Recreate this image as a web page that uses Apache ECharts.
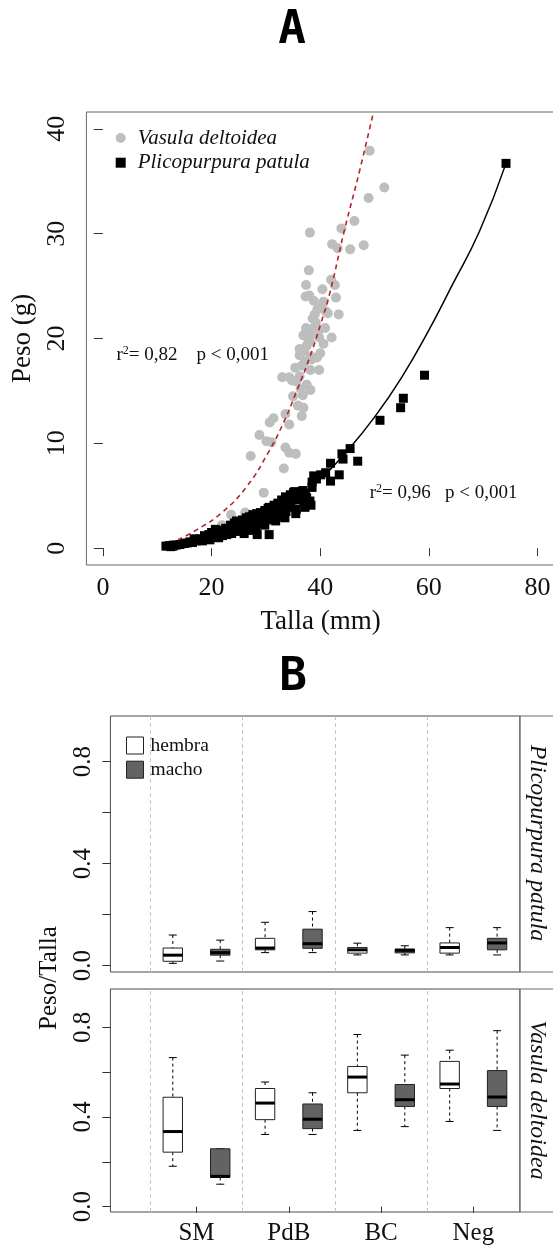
<!DOCTYPE html>
<html><head><meta charset="utf-8">
<script src="https://cdn.jsdelivr.net/npm/echarts@6/dist/echarts.min.js"></script>
<style>html,body{margin:0;padding:0;background:#fff}#c{width:553px;height:1245px}</style>
</head><body><div id="c"></div>
<script>
// ---------- Panel A data ----------
const vasulaPoints = [
 [49.1,37.9],[51.8,34.4],[48.9,33.4],[46.3,31.2],[43.9,30.5],[38.1,30.1],[42.2,29.0],[43.2,28.6],[45.5,28.5],[48.0,28.9],
 [37.9,26.5],[37.4,25.1],[40.4,24.7],[42.0,25.6],[42.7,25.1],[42.9,23.9],[37.3,24.0],[38.8,23.6],[40.6,23.5],[39.5,22.8],
 [41.4,22.4],[43.4,22.3],[38.6,21.9],[37.4,21.0],[38.8,21.0],[40.9,21.0],[42.1,20.1],[39.8,20.1],[38.1,19.7],[36.2,19.0],
 [37.5,19.3],[40.0,18.6],[36.2,18.4],[38.2,18.3],[36.6,17.4],[38.2,17.0],[39.8,17.0],[33.0,16.3],[34.3,16.3],[36.2,16.4],
 [37.5,15.6],[38.2,15.1],[35.9,13.6],[36.9,13.4],[36.6,12.6],[33.6,12.8],[31.4,12.4],[30.7,12.0],[34.3,11.8],[28.8,10.8],
 [30.1,10.2],[31.0,10.1],[33.6,9.6],[34.3,9.1],[35.5,9.0],[27.2,8.8],[33.3,7.6],[29.6,5.3],[26.2,3.4],[23.6,3.2],[21.9,2.2],
 [39.2,21.5],[39.6,20.6],[36.9,20.3],[40.6,19.5],[38.5,20.5],[37.8,19.9],[37.0,18.8],[35.4,17.2],[37.2,17.8],[38.4,18.0],
 [36.8,14.6],[35.0,14.5],[34.8,16.0],[39.0,22.3],[41.0,22.6],[40.3,23.1],[38.0,24.1],[35.6,15.9],[39.4,18.2],[36.4,15.2]
];
const plicoPoints = [
 [11.6,0.2],[12.2,0.25],[12.9,0.2],[13.5,0.3],[14.2,0.35],[12.5,0.15],[13.0,0.3],
 [15.0,0.45],[15.5,0.5],[16.0,0.6],[16.5,0.55],[16.8,0.9],[17.2,0.7],[17.5,0.8],[18.0,0.9],[18.3,0.7],[18.7,1.2],[19.0,1.0],
 [19.3,1.1],[19.7,0.8],[20.0,1.5],[20.4,1.2],[20.7,1.8],
 [21.0,1.3],[21.3,1.0],[21.7,1.4],[22.0,1.2],[22.4,1.6],[22.8,1.3],[23.1,1.8],[23.3,1.5],[23.7,1.4],[24.0,2.0],[24.3,1.7],
 [24.6,2.6],[24.9,1.9],[25.2,1.6],[25.5,2.2],[25.8,2.0],[26.2,1.8],[26.5,2.1],[26.8,2.5],
 [27.1,2.2],[27.4,2.7],[27.8,2.3],[28.0,2.6],[28.2,1.9],[28.4,1.3],[28.7,2.9],[29.1,2.8],[29.3,2.4],[29.6,3.0],[30.0,3.2],
 [30.6,1.3],[30.4,3.8],[30.7,2.7],[31.0,3.4],[31.3,3.0],
 [31.7,3.4],[32.0,3.8],[32.3,3.2],[32.7,3.6],[33.0,4.0],[33.0,3.0],[33.4,4.3],[33.7,3.5],[34.0,4.6],[34.3,4.5],[34.6,3.9],
 [35.0,4.8],[35.3,5.4],[35.6,3.7],[35.9,4.6],[36.3,4.7],[36.6,5.0],[37.0,4.3],[37.5,4.8],[37.8,4.2],[38.1,4.5],[38.5,5.8],
 [38.5,6.3],[38.8,6.9],[39.3,6.6],[40.1,7.0],[41.0,7.2],
 [19.5,1.3],[21.5,1.7],[22.6,1.9],[23.5,2.2],[24.2,2.4],[25.0,2.5],[25.7,2.7],[26.4,2.9],[27.0,3.0],[27.6,3.2],[28.3,3.3],
 [29.0,3.4],[29.8,3.6],[30.6,3.9],[31.5,4.1],[32.2,4.3],[32.9,4.6],[33.6,4.9],[34.5,5.1],[35.1,5.3],[36.0,5.2],[36.8,5.5],
 [37.3,5.1],[26.0,1.4],[27.3,1.7],[29.8,2.2],[31.8,2.6],[33.5,2.9],[35.5,3.3],[37.2,3.9],[38.3,4.1],
 [41.9,8.1],[41.9,6.4],[43.5,7.0],[44.0,9.0],[44.2,8.5],[45.5,9.5],[46.9,8.3],[51.0,12.2],[54.8,13.4],[55.3,14.3],[59.2,16.5],[74.2,36.7]
];
// fitted curves
const fitVasula = [[13.8,0.8],[17.4,1.8],[21.9,3.4],[26.5,5.9],[30.4,9.1],[33.0,11.7],[35.6,14.9],[38.2,18.4],[40.1,21.4],[41.8,24.4],[44.4,30.2],[47.3,36.1],[49.8,41.6]];
const fitPlico = [[12,0.2],[15,0.5],[20,1.0],[25,1.8],[30,3.0],[35,4.6],[40,6.6],[45,9.3],[50,12.5],[55,16.3],[60,20.8],[64.2,25.0],[69.3,30.2],[74.2,36.7]];
const xTicksA = [0,20,40,60,80];
const yTicksA = [0,10,20,30,40];

// ---------- Panel B data ----------
const categories = ['SM','PdB','BC','Neg'];
const catTicks = [1,2,3,4];
const separators = [0.5,1.5,2.5,3.5];
const yTicksB = [0,0.2,0.4,0.6,0.8];
const yLabelsB = [0,0.4,0.8];
// each: [min, q1, median, q3, max]
const plicoHembra  = [[0.009,0.017,0.041,0.069,0.12],[0.051,0.062,0.069,0.107,0.17],[0.042,0.049,0.062,0.071,0.088],[0.042,0.049,0.071,0.089,0.149]];
const plicoMacho   = [[0.018,0.041,0.051,0.064,0.10],[0.051,0.068,0.086,0.143,0.212],[0.042,0.05,0.06,0.065,0.078],[0.042,0.062,0.089,0.107,0.149]];
const vasulaHembra = [[0.18,0.243,0.335,0.488,0.665],[0.322,0.388,0.462,0.527,0.556],[0.34,0.508,0.578,0.625,0.768],[0.38,0.527,0.547,0.648,0.698]];
const vasulaMacho  = [[0.10,0.13,0.135,0.258,0.258],[0.322,0.348,0.39,0.458,0.508],[0.357,0.447,0.477,0.545,0.676],[0.34,0.447,0.489,0.607,0.785]];

const SERIF = '"Liberation Serif", "Times New Roman", serif';
const chart = echarts.init(document.getElementById('c'), null, {renderer:'canvas'});

function boxItem(params, api) {
  const x = api.value(0);
  const p = i => api.coord([x, api.value(i)]);
  const lo = p(1), q1 = p(2), md = p(3), q3 = p(4), hi = p(5);
  const cx = lo[0], bw = 19.4, cw = 8;
  const dash = {stroke:'#000', lineWidth:1, lineDash:[3,3]};
  const solid = {stroke:'#000', lineWidth:1};
  return {type:'group', children:[
    {type:'line', shape:{x1:cx,y1:hi[1],x2:cx,y2:q3[1]}, style:dash},
    {type:'line', shape:{x1:cx,y1:q1[1],x2:cx,y2:lo[1]}, style:dash},
    {type:'line', shape:{x1:cx-cw/2,y1:hi[1],x2:cx+cw/2,y2:hi[1]}, style:solid},
    {type:'line', shape:{x1:cx-cw/2,y1:lo[1],x2:cx+cw/2,y2:lo[1]}, style:solid},
    {type:'rect', shape:{x:cx-bw/2,y:q3[1],width:bw,height:q1[1]-q3[1]}, style:{fill:api.visual('color'), stroke:'#222', lineWidth:1}},
    {type:'line', shape:{x1:cx-bw/2,y1:md[1],x2:cx+bw/2,y2:md[1]}, style:{stroke:'#000', lineWidth:3}}
  ]};
}
const sepLine = {silent:true, symbol:'none', label:{show:false},
  lineStyle:{color:'#c4c4c4', type:[4,3], width:1}, data: separators.map(v=>({xAxis:v}))};
function boxSeries(name, stats, shift, gi, color, withSep) {
  const s = {type:'custom', name, xAxisIndex:gi, yAxisIndex:gi, renderItem:boxItem, itemStyle:{color},
    encode:{x:0, y:[1,2,3,4,5]}, data: stats.map((v,i)=>[catTicks[i]+shift].concat(v)), z:3};
  if (withSep) s.markLine = sepLine;
  return s;
}

const tickStyle = {lineStyle:{color:'#333', width:1}};
const hidden = {show:false};
const gridBase = {show:true, borderWidth:1, containLabel:false, outerBoundsMode:'none'};

const option = {
  animation:false,
  grid:[
    Object.assign({left:86.4, top:112, width:468.5, height:453, borderColor:'#666'}, gridBase),
    Object.assign({left:110.4, top:716, width:409.5, height:256, borderColor:'#4a4a4a'}, gridBase),
    Object.assign({left:519.9, top:716, width:100, height:256, borderColor:'#6a6a6a'}, gridBase),
    Object.assign({left:110.4, top:989, width:409.5, height:223, borderColor:'#4a4a4a'}, gridBase),
    Object.assign({left:519.9, top:989, width:100, height:223, borderColor:'#6a6a6a'}, gridBase)
  ],
  xAxis:[
    {gridIndex:0, type:'value', min:-3.04, max:83.2, axisLine:hidden, splitLine:hidden,
     axisTick:Object.assign({show:true, length:8, customValues:xTicksA}, tickStyle),
     axisLabel:{customValues:xTicksA, fontSize:26, fontFamily:SERIF, color:'#111', margin:10},
     name:'Talla (mm)', nameLocation:'middle', nameGap:43, nameTextStyle:{fontSize:27, fontFamily:SERIF, color:'#111'}},
    {gridIndex:1, type:'value', min:0.067, max:4.504, axisLine:hidden, splitLine:hidden, axisTick:hidden, axisLabel:hidden},
    {gridIndex:2, type:'value', show:false, min:0, max:1},
    {gridIndex:3, type:'value', min:0.067, max:4.504, axisLine:hidden, splitLine:hidden,
     axisTick:Object.assign({show:true, length:6, customValues:catTicks}, tickStyle),
     axisLabel:{customValues:catTicks, formatter:v=>categories[Math.round(v)-1], fontSize:25, fontFamily:SERIF, color:'#111', margin:9}},
    {gridIndex:4, type:'value', show:false, min:0, max:1}
  ],
  yAxis:[
    {gridIndex:0, type:'value', min:-1.6, max:41.6, axisLine:hidden, splitLine:hidden,
     axisTick:Object.assign({show:true, length:9, customValues:yTicksA}, tickStyle),
     axisLabel:{customValues:yTicksA, rotate:90, fontSize:26, fontFamily:SERIF, color:'#111', margin:16},
     name:'Peso (g)', nameLocation:'middle', nameRotate:90, nameGap:47, nameTextStyle:{fontSize:27, fontFamily:SERIF, color:'#111'}},
    {gridIndex:1, type:'value', min:-0.025, max:0.979, axisLine:hidden, splitLine:hidden,
     axisTick:Object.assign({show:true, length:8, customValues:yTicksB}, tickStyle),
     axisLabel:{customValues:yLabelsB, formatter:v=>v.toFixed(1), rotate:90, fontSize:25, fontFamily:SERIF, color:'#111', margin:14}},
    {gridIndex:2, type:'value', show:false, min:0, max:1},
    {gridIndex:3, type:'value', min:-0.024, max:0.971, axisLine:hidden, splitLine:hidden,
     axisTick:Object.assign({show:true, length:8, customValues:yTicksB}, tickStyle),
     axisLabel:{customValues:yLabelsB, formatter:v=>v.toFixed(1), rotate:90, fontSize:25, fontFamily:SERIF, color:'#111', margin:14}},
    {gridIndex:4, type:'value', show:false, min:0, max:1}
  ],
  legend:[
    {data:['Vasula deltoidea','Plicopurpura patula'], orient:'vertical', left:110.7, top:122.5,
     itemWidth:10, itemHeight:10, itemGap:3.7, selectedMode:false,
     textStyle:{fontFamily:SERIF, fontStyle:'italic', fontSize:21, lineHeight:21, color:'#111', padding:[0,0,0,7]}},
    {data:[{name:'hembra', icon:'rect', itemStyle:{color:'#ffffff', borderColor:'#222', borderWidth:1}},
           {name:'macho', icon:'rect', itemStyle:{color:'#636363', borderColor:'#222', borderWidth:1}}],
     orient:'vertical', left:121, top:730.5, itemWidth:17, itemHeight:17, itemGap:4.2, selectedMode:false,
     textStyle:{fontFamily:SERIF, fontSize:19.5, lineHeight:20, color:'#111', padding:[0,0,0,2]}}
  ],
  series:[
    {type:'scatter', name:'Vasula deltoidea', xAxisIndex:0, yAxisIndex:0, data:vasulaPoints, symbol:'circle', symbolSize:10,
     itemStyle:{color:'#bebebe', opacity:1}, z:2},
    {type:'scatter', name:'Plicopurpura patula', xAxisIndex:0, yAxisIndex:0, data:plicoPoints, symbol:'rect', symbolSize:9,
     itemStyle:{color:'#000', opacity:1}, z:3},
    {type:'line', name:'fitV', xAxisIndex:0, yAxisIndex:0, data:fitVasula, smooth:true, showSymbol:false, symbol:'none',
     lineStyle:{color:'#b8222a', width:1.6, type:[5,4]}, z:4, silent:true},
    {type:'line', name:'fitP', xAxisIndex:0, yAxisIndex:0, data:fitPlico, smooth:true, showSymbol:false, symbol:'none',
     lineStyle:{color:'#000', width:1.5}, z:4, silent:true},
    boxSeries('hembra', plicoHembra, -0.257, 1, '#ffffff', true),
    boxSeries('macho', plicoMacho, 0.257, 1, '#636363', false),
    boxSeries('hembra', vasulaHembra, -0.257, 3, '#ffffff', true),
    boxSeries('macho', vasulaMacho, 0.257, 3, '#636363', false)
  ],
  graphic:[
    {type:'text', x:292, y:31, style:{text:'A', font:'bold 46px "DejaVu Sans Mono"', fill:'#000', align:'center', verticalAlign:'middle'}},
    {type:'text', x:293, y:678, style:{text:'B', font:'bold 46px "DejaVu Sans Mono"', fill:'#000', align:'center', verticalAlign:'middle'}},
    {type:'text', x:116.4, y:355, style:{text:'{r|r}{s|2}{r|= 0,82    p < 0,001}', verticalAlign:'middle',
      rich:{r:{fontSize:19, fontFamily:SERIF, fill:'#111', lineHeight:20}, s:{fontSize:12, fontFamily:SERIF, fill:'#111', verticalAlign:'top', lineHeight:20}}}},
    {type:'text', x:369.7, y:492.7, style:{text:'{r|r}{s|2}{r|= 0,96   p < 0,001}', verticalAlign:'middle',
      rich:{r:{fontSize:19, fontFamily:SERIF, fill:'#111', lineHeight:20}, s:{fontSize:12, fontFamily:SERIF, fill:'#111', verticalAlign:'top', lineHeight:20}}}},
    {type:'text', x:537, y:843, rotation:-Math.PI/2, style:{text:'Plicopurpura patula', font:'italic 24px "Liberation Serif"', fill:'#111', align:'center', verticalAlign:'middle'}},
    {type:'text', x:537, y:1100, rotation:-Math.PI/2, style:{text:'Vasula deltoidea', font:'italic 24px "Liberation Serif"', fill:'#111', align:'center', verticalAlign:'middle'}},
    {type:'text', x:49, y:978, rotation:Math.PI/2, style:{text:'Peso/Talla', font:'25px "Liberation Serif"', fill:'#111', align:'center', verticalAlign:'middle'}}
  ]
};
chart.setOption(option);
</script></body></html>
